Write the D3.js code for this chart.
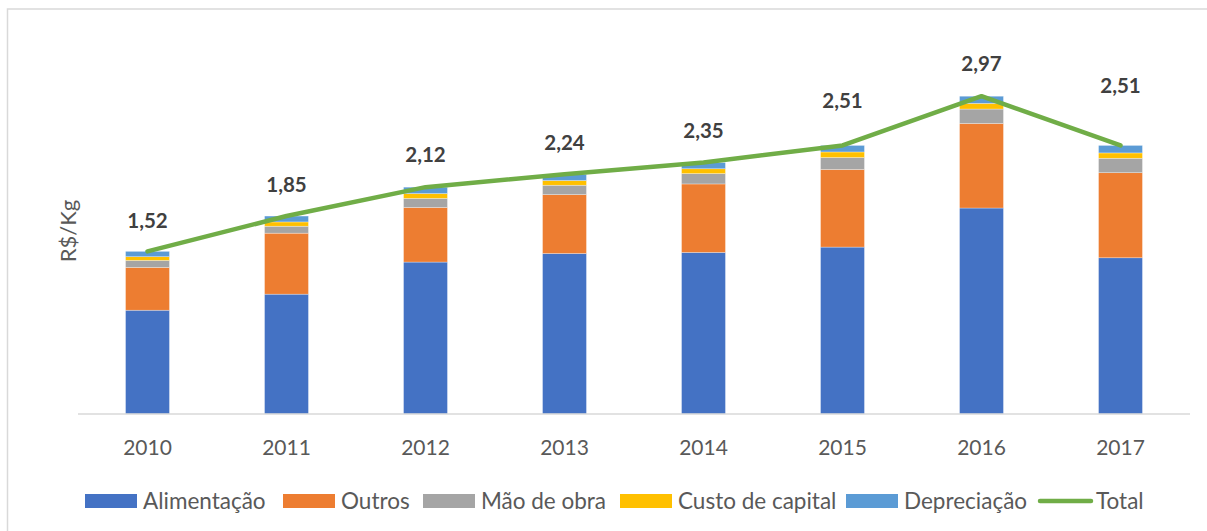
<!DOCTYPE html>
<html><head><meta charset="utf-8">
<script src="https://cdn.jsdelivr.net/npm/d3@7"></script>
<style>html,body{margin:0;padding:0;background:#fff;}svg{display:block;}</style>
</head><body>
<svg id="chart" width="1207" height="531"></svg>
<script>
const years = ["2010","2011","2012","2013","2014","2015","2016","2017"];
const seriesNames = ["Alimentação","Outros","Mão de obra","Custo de capital","Depreciação"];
const alimentacao = [0.97, 1.12, 1.42, 1.50, 1.51, 1.56, 1.925, 1.46];
const outros      = [0.40, 0.57, 0.51, 0.55, 0.64, 0.725, 0.79, 0.795];
const maoDeObra   = [0.065, 0.065, 0.085, 0.088, 0.097, 0.112, 0.135, 0.135];
const custoCapital= [0.035, 0.04, 0.045, 0.044, 0.045, 0.052, 0.053, 0.05];
const depreciacao = [0.05, 0.055, 0.06, 0.058, 0.058, 0.061, 0.067, 0.07];
const total       = [1.52, 1.85, 2.12, 2.24, 2.35, 2.51, 2.97, 2.51];
const totalLabels = ["1,52","1,85","2,12","2,24","2,35","2,51","2,97","2,51"];

// layout (not data)
const colors = ["#4472C4","#ED7D31","#A5A5A5","#FFC000","#5B9BD5"];
const lineColor = "#70AD47";
const labelRaise = [31,31,32,31,32,45,32,60];
const legendX = [85, 283, 423, 620, 846, 1038];

const svg = d3.select("#chart");
const font = "Lato, 'Open Sans', sans-serif";
svg.append("rect").attr("x",7.5).attr("y",9).attr("width",1210).attr("height",530)
  .attr("fill","#fff").attr("stroke","#d9d9d9").attr("stroke-width",1.5);

const x = d3.scaleBand().domain(years).range([78, 1190]).paddingInner(0.684).paddingOuter(0.342);
const y = d3.scaleLinear().domain([0, 3.5]).range([414, 39.5]);

const table = years.map((yr,i)=>({year:yr,
  "Alimentação":alimentacao[i],"Outros":outros[i],"Mão de obra":maoDeObra[i],
  "Custo de capital":custoCapital[i],"Depreciação":depreciacao[i]}));
const stack = d3.stack().keys(seriesNames)(table);

svg.append("g").selectAll("g").data(stack).join("g")
  .attr("fill",(d,i)=>colors[i])
  .selectAll("rect").data(d=>d).join("rect")
  .attr("x",d=>x(d.data.year)).attr("width",x.bandwidth())
  .attr("y",d=>y(d[1])).attr("height",d=>y(d[0])-y(d[1]))
  .attr("stroke","#ffffff").attr("stroke-opacity",0.5).attr("stroke-width",0.6);

// x axis
const xAxis = svg.append("g").attr("transform","translate(0,414)")
  .call(d3.axisBottom(x).tickSize(0).tickPadding(26));
xAxis.select(".domain").attr("stroke","#d9d9d9").attr("stroke-width",1.5).attr("d","M78,0H1190");
xAxis.selectAll("text").attr("font-family",font).attr("font-size",21).attr("fill","#595959");

// y label
svg.append("text").attr("transform","translate(76,231) rotate(-90)")
  .attr("text-anchor","middle").attr("font-family",font).attr("font-size",22)
  .attr("fill","#595959").text("R$/Kg");

// total line
const line = d3.line().x((d,i)=>x(years[i])+x.bandwidth()/2).y(d=>y(d));
svg.append("path").datum(total).attr("d",line).attr("fill","none")
  .attr("stroke",lineColor).attr("stroke-width",4.5).attr("stroke-linecap","round").attr("stroke-linejoin","round");

// labels
svg.append("g").selectAll("text").data(total).join("text")
  .attr("x",(d,i)=>x(years[i])+x.bandwidth()/2)
  .attr("y",(d,i)=>y(d)-labelRaise[i])
  .attr("dy","0.35em").attr("text-anchor","middle")
  .attr("font-family",font).attr("font-size",20.5).attr("font-weight","bold").attr("fill","#404040")
  .text((d,i)=>totalLabels[i]);

// legend
const leg = svg.append("g");
const legendNames = seriesNames.concat(["Total"]);
legendNames.forEach((n,i)=>{
  const lx = legendX[i];
  if(i<5){
    leg.append("rect").attr("x",lx).attr("y",494).attr("width",52).attr("height",14).attr("fill",colors[i]);
  } else {
    leg.append("line").attr("x1",lx+2).attr("x2",lx+53).attr("y1",501).attr("y2",501)
      .attr("stroke",lineColor).attr("stroke-width",4.5).attr("stroke-linecap","round");
  }
  leg.append("text").attr("x",lx+58).attr("y",501).attr("dy","0.35em")
    .attr("font-family",font).attr("font-size",22.5).attr("fill","#595959").text(n);
});
</script>
</body></html>
